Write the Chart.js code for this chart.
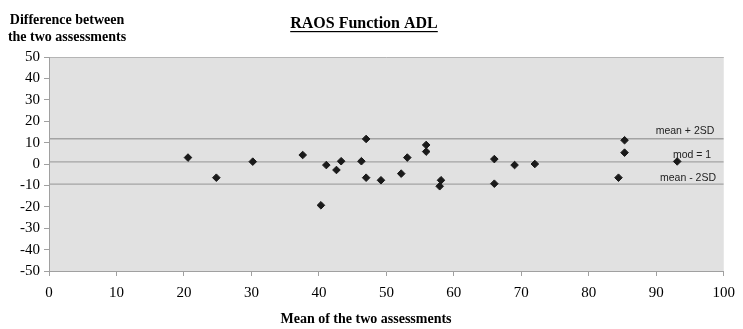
<!DOCTYPE html>
<html>
<head>
<meta charset="utf-8">
<script src="https://cdn.jsdelivr.net/npm/chart.js@4"></script>
<style>
  html, body { margin: 0; padding: 0; background: #fff; }
  #wrap { width: 743px; height: 329px; position: relative; }
</style>
</head>
<body>
<div id="wrap"><canvas id="chart"></canvas></div>
<script>
// mean of the two assessments / difference between them
const meanX = [20.6, 24.8, 30.2, 37.6, 40.3, 41.1, 42.6, 43.3, 46.3, 47.0, 47.0, 49.2, 52.2,
  53.1, 55.9, 55.9, 58.1, 57.9, 66.0, 66.0, 69.0, 72.0, 85.3, 85.3, 84.4, 93.1];
const diffY = [3.0, -6.4, 1.1, 4.2, -19.3, -0.5, -2.8, 1.3, 1.3, 11.7, -6.4, -7.6, -4.5,
  3.0, 8.9, 5.8, -7.6, -10.4, 2.3, -9.2, -0.5, 0.0, 11.1, 5.3, -6.4, 1.2];

const refNames = ['mean + 2SD', 'mod = 1', 'mean - 2SD'];
const refValues = [11.8, 1, -9.4];
const xTicks = [0, 100, 10];
const yTicks = [-50, 50, 10];

const serif = '"Liberation Serif", "Times New Roman", serif';
const sans = '"Liberation Sans", Arial, sans-serif';

const refSets = refValues.map(function (v) {
  return {
    type: 'line',
    data: [{ x: 0, y: v }, { x: 100, y: v }],
    borderColor: '#a3a3a3',
    borderWidth: 1.3,
    pointRadius: 0,
    order: 2,
  };
});

const decor = {
  id: 'decor',
  beforeDraw(chart) {
    const { ctx, chartArea: a } = chart;
    ctx.save();
    ctx.fillStyle = '#e1e1e1';
    ctx.fillRect(a.left, a.top, a.right - a.left, a.bottom - a.top);
    ctx.strokeStyle = '#b5b5b5';
    ctx.lineWidth = 1;
    ctx.beginPath();
    ctx.moveTo(a.left, a.top + 0.5);
    ctx.lineTo(a.right, a.top + 0.5);
    ctx.stroke();
    ctx.restore();
  },
  afterDraw(chart) {
    const { ctx } = chart;
    ctx.save();
    ctx.fillStyle = '#000';
    ctx.textAlign = 'center';
    ctx.textBaseline = 'middle';
    // title
    ctx.font = 'bold 16px ' + serif;
    ctx.fillText('RAOS Function ADL', 364, 24);
    const w = ctx.measureText('RAOS Function ADL').width;
    ctx.fillRect(364 - w / 2, 31, w, 1.2);
    // y axis title
    ctx.font = 'bold 14px ' + serif;
    ctx.fillText('Difference between', 67, 20);
    ctx.fillText('the two assessments', 67, 37);
    // x axis title
    ctx.fillText('Mean of the two assessments', 366, 319);
    // reference line labels
    ctx.font = '10.5px ' + sans;
    ctx.fillStyle = '#222';
    const lx = [685, 692, 688];
    const ly = [131, 155.5, 178.5];
    refNames.forEach(function (n, i) {
      ctx.fillText(n, lx[i], ly[i]);
    });
    ctx.restore();
  },
};

new Chart(document.getElementById('chart'), {
  type: 'scatter',
  data: {
    datasets: [
      {
        data: meanX.map(function (x, i) { return { x: x, y: diffY[i] }; }),
        pointStyle: 'rectRot',
        pointRadius: 3.8,
        backgroundColor: '#1a1a1a',
        borderColor: '#1a1a1a',
        borderWidth: 1,
        order: 1,
      },
    ].concat(refSets),
  },
  options: {
    responsive: true,
    maintainAspectRatio: false,
    animation: false,
    events: [],
    layout: { padding: { top: 57, right: 16, left: 0, bottom: 0 } },
    plugins: { legend: { display: false }, tooltip: { enabled: false } },
    scales: {
      x: {
        type: 'linear',
        min: xTicks[0],
        max: xTicks[1],
        afterFit(s) { s.height = 58; },
        ticks: {
          stepSize: xTicks[2],
          color: '#000',
          padding: 8,
          maxRotation: 0,
          font: { family: serif, size: 15 },
        },
        grid: { drawOnChartArea: false, tickLength: 5, color: '#a0a0a0' },
        border: { color: '#a0a0a0' },
      },
      y: {
        type: 'linear',
        min: yTicks[0],
        max: yTicks[1],
        afterFit(s) { s.width = 49; },
        ticks: {
          stepSize: yTicks[2],
          color: '#000',
          padding: 4,
          font: { family: serif, size: 15 },
        },
        grid: { drawOnChartArea: false, tickLength: 5, color: '#a0a0a0' },
        border: { color: '#a0a0a0' },
      },
    },
  },
  plugins: [decor],
});
</script>
</body>
</html>
